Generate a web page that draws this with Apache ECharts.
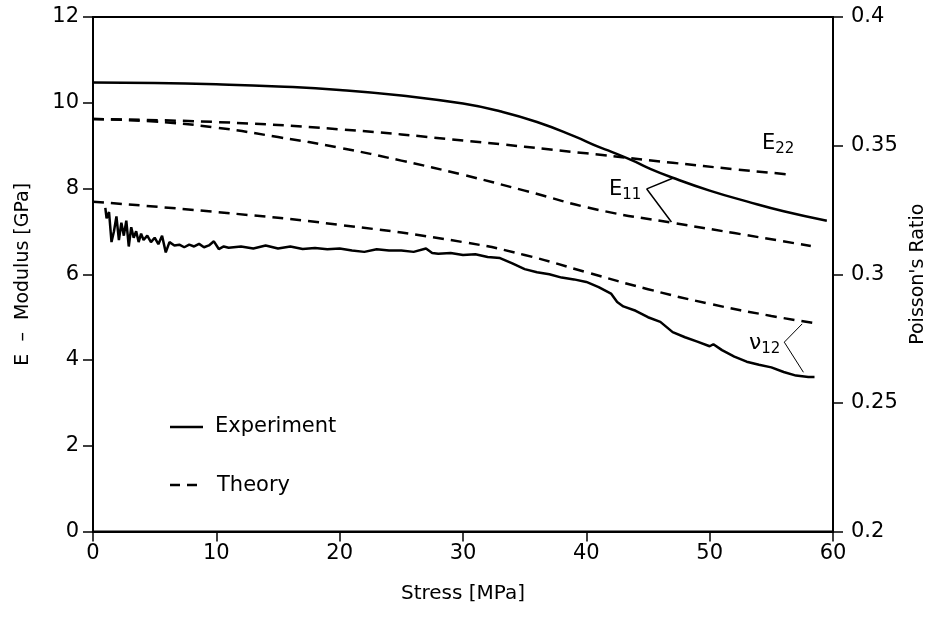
<!DOCTYPE html>
<html><head><meta charset="utf-8">
<script src="https://cdn.jsdelivr.net/npm/echarts@6/dist/echarts.min.js"></script>
<style>html,body{margin:0;padding:0;background:#fff}#c{width:945px;height:620px}</style>
</head><body><div id="c"></div>
<script>
// E-modulus experiment (GPa)
const expE_x = [0,5,10,15,20,25,30,33,36,39,41,42,44,45,47,50,53,56,59.5];
const expE_y = [10.47,10.46,10.43,10.38,10.3,10.17,9.98,9.8,9.55,9.22,8.97,8.86,8.62,8.48,8.25,7.95,7.7,7.47,7.25];
// E22 theory
const thE22_x = [0,10,20,30,40,47,52,56.7];
const thE22_y = [9.62,9.55,9.38,9.12,8.82,8.6,8.45,8.32];
// E11 theory
const thE11_x = [0,5,10,15,20,25,30,35,41,47,52,58.2];
const thE11_y = [9.62,9.56,9.42,9.2,8.95,8.65,8.32,7.95,7.5,7.2,6.96,6.66];
// Poisson ratio theory
const thNu_x = [0,10,20,30,35,40,45,50,55,58.4];
const thNu_y = [0.3282,0.3242,0.3192,0.3125,0.3075,0.3008,0.2942,0.2885,0.2838,0.2811];
// Poisson ratio experiment
const expNu_x = [1.0,1.1,1.3,1.5,1.7,1.9,2.1,2.3,2.5,2.7,2.9,3.1,3.3,3.5,3.7,3.9,4.1,4.4,4.7,5.0,5.3,5.6,5.9,6.2,6.6,7.0,7.4,7.8,8.2,8.6,9.0,9.4,9.8,10.2,10.6,11,12,13,14,15,16,17,18,19,20,21,22,23,24,25,26,27,27.5,28,29,30,31,32,33,34,35,36,37,38,39,40,41,42,42.5,43,44,45,46,47,48,49,50,50.3,51,52,53,54,55,56,57,58,58.5];
const expNu_y = [0.3258,0.3217,0.3242,0.3125,0.3167,0.3225,0.3133,0.32,0.315,0.3208,0.3108,0.3183,0.3142,0.3167,0.3125,0.3158,0.3133,0.315,0.3125,0.3142,0.3117,0.315,0.3085,0.3125,0.3112,0.3115,0.3105,0.3115,0.3108,0.3118,0.3105,0.3112,0.3128,0.3098,0.3108,0.3103,0.3108,0.3100,0.3112,0.3100,0.3108,0.3098,0.3102,0.3097,0.31,0.3092,0.3087,0.3097,0.3092,0.3092,0.3087,0.31,0.3083,0.308,0.3083,0.3075,0.3078,0.3067,0.3063,0.3042,0.302,0.3008,0.3,0.2987,0.298,0.297,0.295,0.2925,0.2892,0.2875,0.2858,0.2833,0.2815,0.2775,0.2755,0.2738,0.272,0.2728,0.2705,0.268,0.266,0.2648,0.2638,0.262,0.2606,0.2601,0.2601];
// annotation leaders
const leadE11 = [[47.1,8.25],[44.9,7.99],[46.9,7.22]];
const leadNu = [[57.5,0.2807],[56.05,0.2736],[57.6,0.2619]];

const zip = (a,b)=>a.map((v,i)=>[v,b[i]]);
const font = '"DejaVu Sans", Arial, sans-serif';
const chart = echarts.init(document.getElementById('c'), null, {renderer:'canvas'});
const dash = [11,7];
const lbl = {fontFamily:font,fontSize:21,color:'#000'};
chart.setOption({
  animation:false,
  backgroundColor:'#fff',
  grid:{left:93,right:112,top:17,bottom:88.5,containLabel:false,outerBoundsMode:'none',show:true,borderColor:'#000',borderWidth:2,backgroundColor:'transparent'},
  xAxis:{type:'value',min:0,max:60,interval:10,name:'Stress [MPa]',nameLocation:'middle',nameGap:52,
    nameTextStyle:{fontFamily:font,fontSize:20,color:'#000'},
    axisLine:{show:true,lineStyle:{color:'#000',width:2}},
    axisTick:{show:true,inside:false,length:10,lineStyle:{color:'#000',width:1.5}},
    axisLabel:Object.assign({margin:12},lbl),
    splitLine:{show:false}},
  yAxis:[
    {type:'value',min:0,max:12,interval:2,name:'E  –  Modulus [GPa]',nameLocation:'middle',nameGap:60,
      nameTextStyle:{fontFamily:font,fontSize:19,color:'#000'},
      axisLine:{show:true,lineStyle:{color:'#000',width:2}},
      axisTick:{show:true,length:10,lineStyle:{color:'#000',width:1.5}},
      axisLabel:Object.assign({margin:14},lbl),
      splitLine:{show:false}},
    {type:'value',min:0.2,max:0.4,interval:0.05,position:'right',name:"Poisson's Ratio",nameLocation:'middle',nameGap:74,
      nameRotate:90,
      nameTextStyle:{fontFamily:font,fontSize:19,color:'#000'},
      axisLine:{show:true,lineStyle:{color:'#000',width:2}},
      axisTick:{show:true,length:10,lineStyle:{color:'#000',width:1.5}},
      axisLabel:Object.assign({margin:18,formatter:v=>String(+v.toFixed(2))},lbl),
      splitLine:{show:false}}
  ],
  series:[
    {name:'Experiment',type:'line',data:zip(expE_x,expE_y),showSymbol:false,smooth:true,lineStyle:{color:'#000',width:2.5}},
    {name:'Theory',type:'line',data:zip(thE22_x,thE22_y),showSymbol:false,smooth:true,lineStyle:{color:'#000',width:2.5,type:dash}},
    {name:'Theory',type:'line',data:zip(thE11_x,thE11_y),showSymbol:false,smooth:true,lineStyle:{color:'#000',width:2.5,type:dash}},
    {name:'Theory',type:'line',yAxisIndex:1,data:zip(thNu_x,thNu_y),showSymbol:false,smooth:true,lineStyle:{color:'#000',width:2.5,type:dash}},
    {name:'Experiment',type:'line',yAxisIndex:1,data:zip(expNu_x,expNu_y),showSymbol:false,lineStyle:{color:'#000',width:2.5}},
    {name:'lead1',type:'line',data:leadE11,showSymbol:false,lineStyle:{color:'#000',width:1.5},z:5},
    {name:'lead2',type:'line',yAxisIndex:1,data:leadNu,showSymbol:false,lineStyle:{color:'#000',width:1},z:5}
  ],
  graphic:[
    {type:'line',shape:{x1:170,y1:427,x2:203,y2:427},style:{stroke:'#000',lineWidth:2.5}},
    {type:'text',left:215,top:416,style:{text:'Experiment',font:'21px '+font,fill:'#000'}},
    {type:'line',shape:{x1:170,y1:485,x2:200,y2:485},style:{stroke:'#000',lineWidth:2.5,lineDash:[10,7]}},
    {type:'text',left:217,top:475,style:{text:'Theory',font:'21px '+font,fill:'#000'}},
    {type:'text',left:762,top:133,style:{rich:{a:{font:'21px '+font,fill:'#000'},s:{font:'15px '+font,fill:'#000',padding:[12,0,0,0]}},text:'{a|E}{s|22}'}},
    {type:'text',left:609,top:179,style:{rich:{a:{font:'21px '+font,fill:'#000'},s:{font:'15px '+font,fill:'#000',padding:[12,0,0,0]}},text:'{a|E}{s|11}'}},
    {type:'text',left:749,top:332,style:{rich:{a:{font:'22px '+font,fill:'#000'},s:{font:'15px '+font,fill:'#000',padding:[12,0,0,0]}},text:'{a|ν}{s|12}'}}
  ]
});
</script></body></html>
